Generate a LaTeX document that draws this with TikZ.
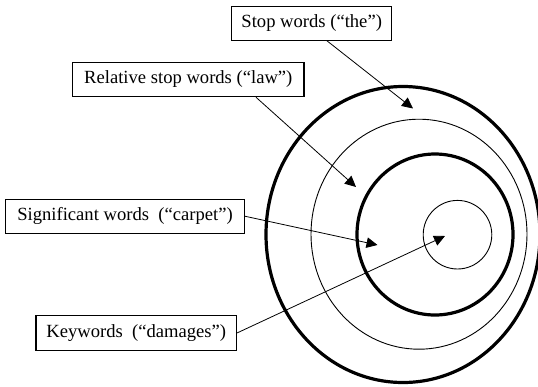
\documentclass[tikz,border=0pt]{standalone}
\usepackage{fontspec}
\setmainfont{Liberation Serif}
\usetikzlibrary{arrows.meta}
\begin{document}
\begin{tikzpicture}[x=1pt,y=-1pt,
  lbl/.style={draw, line width=1.1pt, fill=white, inner sep=0pt,
    font=\fontsize{18.6}{22}\selectfont},
  thickring/.style={line width=3.2pt},
  thinring/.style={line width=0.9pt},
  pointer/.style={line width=0.8pt, -{Triangle[length=11pt,width=10.5pt]}}
]
\useasboundingbox (0,0) rectangle (538,386);
% rings
\draw[thickring] (403,234.5) ellipse [x radius=137, y radius=148];
\draw[thinring]  (419,234.2) ellipse [x radius=108, y radius=115];
\draw[thickring] (435,234.5) ellipse [x radius=78, y radius=80.5];
\draw[thinring]  (457.5,234.7) circle [radius=34.3];
% labels
\node[lbl, minimum width=160pt, minimum height=33.3pt] (stop) at (311.7,23.4) {Stop words (“the”)};
\node[lbl, minimum width=231.3pt, minimum height=34.4pt] (rel) at (188.3,79.5) {Relative stop words (“law”)};
\node[lbl, minimum width=238.6pt, minimum height=34.3pt] (sig) at (125,216.2) {Significant words~ (“carpet”)};
\node[lbl, minimum width=200.7pt, minimum height=34.3pt] (kw) at (136.3,332.9) {Keywords~ (“damages”)};
% arrow tips
\coordinate (tstop) at (413,108.5);
\coordinate (trel) at (356,187);
\coordinate (tsig) at (377.5,245);
\coordinate (tkw) at (445,236);
% connectors
\draw[pointer] ([xshift=15pt]stop.south) -- (tstop);
\draw[pointer] ([xshift=67.7pt]rel.south) -- (trel);
\draw[pointer] (sig.east) -- (tsig);
\draw[pointer] (kw.east) -- (tkw);
\end{tikzpicture}
\end{document}
